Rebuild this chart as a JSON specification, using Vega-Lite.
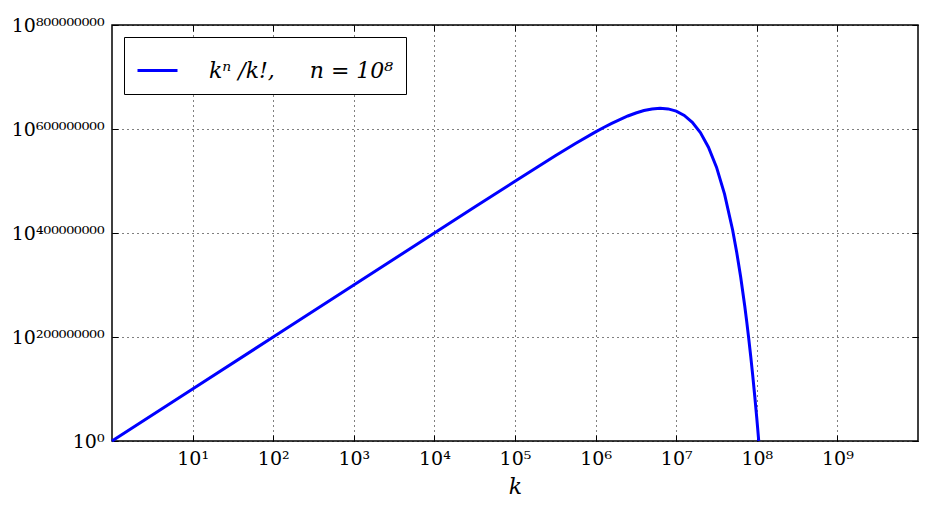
{
  "$schema": "https://vega.github.io/schema/vega-lite/v6.json",
  "autosize": "none",
  "width": 806,
  "height": 416,
  "padding": {"left": 112, "top": 25, "right": 12, "bottom": 74},
  "background": "white",
  "config": {
    "view": {"stroke": "black", "strokeWidth": 1.5},
    "font": "DejaVu Serif",
    "axis": {
      "domain": false,
      "grid": true,
      "gridColor": "black",
      "gridDash": [1, 4],
      "gridOpacity": 1,
      "gridWidth": 1,
      "tickColor": "black",
      "tickSize": -6,
      "tickWidth": 1,
      "labelFont": "DejaVu Serif",
      "labelFontSize": 19,
      "labelColor": "black",
      "titleFont": "DejaVu Serif",
      "titleColor": "black"
    }
  },
  "data": {
    "values": [
      {"k": 1, "v": 0},
      {"k": 10, "v": 100000000},
      {"k": 100, "v": 200000000},
      {"k": 1000, "v": 300000000},
      {"k": 10000, "v": 399964000},
      {"k": 31623, "v": 449871000},
      {"k": 100000, "v": 499543000},
      {"k": 316228, "v": 548398000},
      {"k": 562341, "v": 572011000},
      {"k": 1000000, "v": 594434000},
      {"k": 1258925, "v": 602867000},
      {"k": 1584893, "v": 610862000},
      {"k": 2511886, "v": 625015000},
      {"k": 3162278, "v": 630819000},
      {"k": 3981072, "v": 635454000},
      {"k": 5011872, "v": 638597000},
      {"k": 6309573, "v": 639835000},
      {"k": 7943282, "v": 638641000},
      {"k": 10000000, "v": 634343000},
      {"k": 12589254, "v": 626084000},
      {"k": 15848932, "v": 612771000},
      {"k": 19952623, "v": 593011000},
      {"k": 25118864, "v": 565029000},
      {"k": 31622777, "v": 526563000},
      {"k": 39810717, "v": 474728000},
      {"k": 50118723, "v": 405852000},
      {"k": 56234133, "v": 363608000},
      {"k": 63095734, "v": 315255000},
      {"k": 70794578, "v": 260008000},
      {"k": 74989421, "v": 229526000},
      {"k": 79432823, "v": 196978000},
      {"k": 84139514, "v": 162236000},
      {"k": 89125094, "v": 125162000},
      {"k": 94406088, "v": 85611000},
      {"k": 100000000, "v": 43429000},
      {"k": 102329299, "v": 25783000},
      {"k": 104712855, "v": 7679000},
      {"k": 105720000, "v": 0}
    ]
  },
  "layer": [
    {
      "transform": [{"calculate": "'kⁿ /k!,\u00a0\u00a0\u00a0\u00a0\u00a0n = 10⁸'", "as": "series"}],
      "mark": {"type": "line", "strokeWidth": 3},
      "encoding": {
        "x": {
          "field": "k", "type": "quantitative",
          "scale": {"type": "log", "domain": [1, 10000000000], "nice": false},
          "axis": {
            "orient": "bottom",
            "values": [10, 100, 1000, 10000, 100000, 1000000, 10000000, 100000000, 1000000000],
            "labelExpr": "'10' + ['⁰','¹','²','³','⁴','⁵','⁶','⁷','⁸','⁹'][round(log(datum.value)/LN10)]",
            "labelPadding": 14,
            "title": "k",
            "titleFontStyle": "italic",
            "titleFontWeight": "normal",
            "titleFontSize": 22,
            "titlePadding": 8
          }
        },
        "y": {
          "field": "v", "type": "quantitative",
          "scale": {"domain": [0, 800000000], "nice": false, "zero": false},
          "axis": {
            "orient": "left",
            "values": [0, 200000000, 400000000, 600000000, 800000000],
            "labelExpr": "datum.value == 0 ? '10⁰' : '10' + ['','','²','','⁴','','⁶','','⁸'][round(datum.value/100000000)] + '⁰⁰⁰⁰⁰⁰⁰⁰'",
            "labelPadding": 14,
            "title": null
          }
        },
        "color": {
          "field": "series", "type": "nominal",
          "scale": {"range": ["#0000ff"]},
          "legend": {
            "title": null,
            "orient": "top-left",
            "offset": 12,
            "padding": 12,
            "symbolType": "stroke",
            "symbolStrokeWidth": 3,
            "symbolSize": 1600,
            "labelFont": "DejaVu Serif",
            "labelFontSize": 22,
            "labelFontStyle": "italic",
            "labelColor": "black",
            "labelOffset": 30,
            "labelLimit": 400,
            "strokeColor": "black",
            "fillColor": "white",
            "cornerRadius": 0
          }
        }
      }
    },
    {
      "mark": {"type": "point", "opacity": 0},
      "encoding": {
        "x": {
          "field": "k", "type": "quantitative",
          "scale": {"type": "log", "domain": [1, 10000000000], "nice": false},
          "axis": {
            "orient": "top",
            "values": [10, 100, 1000, 10000, 100000, 1000000, 10000000, 100000000, 1000000000],
            "labels": false, "grid": false, "title": null
          }
        },
        "y": {
          "field": "v", "type": "quantitative",
          "scale": {"domain": [0, 800000000], "nice": false, "zero": false},
          "axis": {
            "orient": "right",
            "values": [0, 200000000, 400000000, 600000000, 800000000],
            "labels": false, "grid": false, "title": null
          }
        }
      }
    }
  ],
  "resolve": {"axis": {"x": "independent", "y": "independent"}}
}
